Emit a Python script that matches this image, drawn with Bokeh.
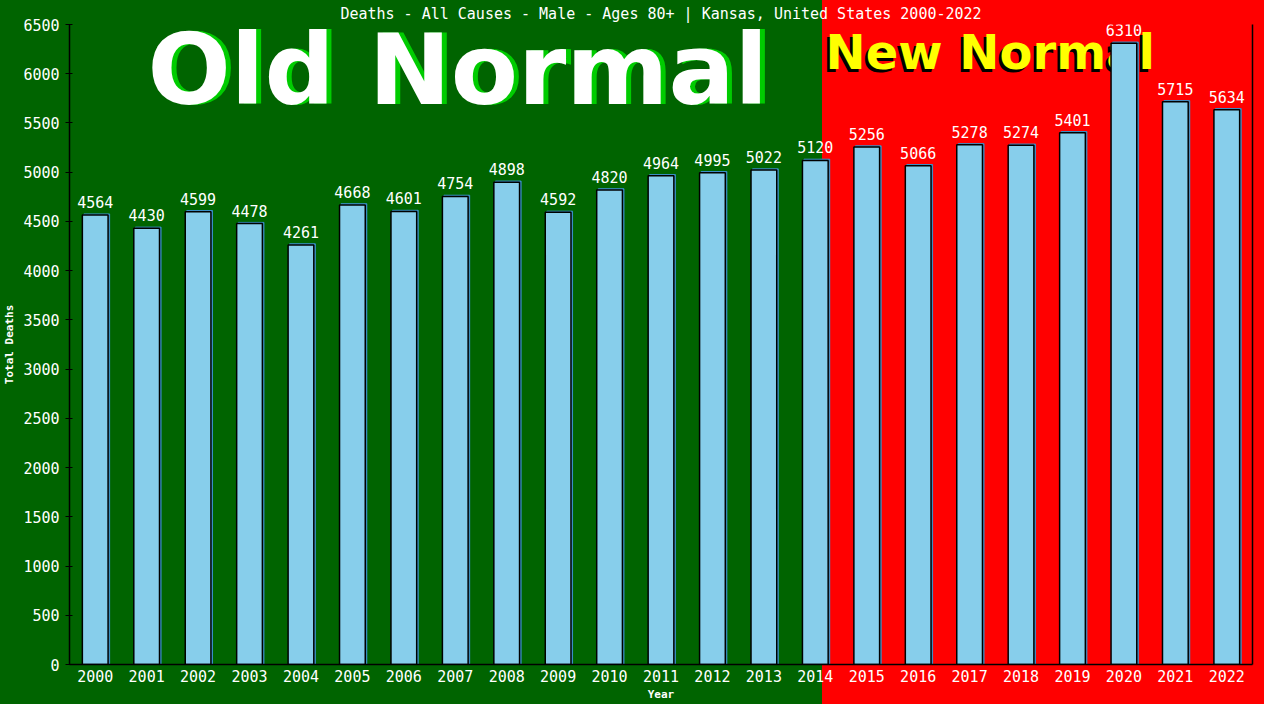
from bokeh.plotting import figure
from bokeh.models import ColumnDataSource, LinearAxis, FixedTicker
from bokeh.core.properties import value
from bokeh.transform import dodge
from bokeh.embed import file_html
from bokeh.resources import INLINE

# ---- data ----
years = list(range(2000, 2023))
deaths = [4564, 4430, 4599, 4478, 4261, 4668, 4601, 4754, 4898, 4592, 4820, 4964,
          4995, 5022, 5120, 5256, 5066, 5278, 5274, 5401, 6310, 5715, 5634]
labels = [str(v) for v in deaths]
y_ticks = list(range(0, 6501, 500))
title_text = "Deaths - All Causes - Male - Ages 80+ | Kansas, United States 2000-2022"
old_label = "Old Normal"
new_label = "New Normal"

GREEN = "#006400"
RED = "#FF0000"
MONO = "DejaVu Sans Mono"
SPLIT_PX = 822  # where the red "new normal" zone starts (canvas px)

src = ColumnDataSource(dict(year=years, deaths=deaths, label=labels,
                            shadow_top=[v + 12 for v in deaths]))

p = figure(width=1264, height=704, output_backend="svg", toolbar_location=None,
           x_range=(1999.5, 2022.5), y_range=(0, 6500),
           min_border_left=61, min_border_right=12, min_border_top=18, min_border_bottom=40)

# two-colour background (green left, red right) painted behind a transparent canvas
p.background_fill_color = None
p.border_fill_color = None
p.styles = {"background": f"linear-gradient(to right, {GREEN} 0px, {GREEN} {SPLIT_PX}px, "
                          f"{RED} {SPLIT_PX}px, {RED} 100%)"}
p.outline_line_color = None
p.grid.visible = False

# title
p.title.text = title_text
p.title.text_font = MONO
p.title.text_font_size = "15px"
p.title.text_font_style = "normal"
p.title.text_color = "white"
p.title.align = "center"
p.title.standoff = 4
p.title.offset = 0

# big texts
p.text(x=[2007.05], y=[6036], text=[old_label], x_offset=5, y_offset=0,
       text_color="#00CC00", text_font=value("DejaVu Sans"), text_font_style="bold",
       text_font_size="98px", text_align="center", text_baseline="middle")
p.text(x=[2007.05], y=[6036], text=[old_label],
       text_color="white", text_font=value("DejaVu Sans"), text_font_style="bold",
       text_font_size="98px", text_align="center", text_baseline="middle")
p.text(x=[2014.2], y=[6220], text=[new_label], x_offset=-3, y_offset=3,
       text_color="black", text_font=value("DejaVu Sans"), text_font_style="bold",
       text_font_size="48px", text_align="left", text_baseline="middle")
p.text(x=[2014.2], y=[6220], text=[new_label],
       text_color="#FFFF00", text_font=value("DejaVu Sans"), text_font_style="bold",
       text_font_size="48px", text_align="left", text_baseline="middle")

# bars
p.vbar(x=dodge("year", 0.03, range=p.x_range), top="shadow_top", width=0.5, bottom=0,
       source=src, fill_color="#3A8FC7", line_color="#3A8FC7", line_width=1)
p.vbar(x="year", top="deaths", width=0.5, bottom=0, source=src,
       fill_color="#87CEEB", line_color="black", line_width=1.5)

# value labels
p.text(x="year", y="deaths", text="label", source=src, y_offset=-7,
       text_align="center", text_baseline="bottom", text_color="white",
       text_font=value(MONO), text_font_size="15px")

# axes
xa = p.xaxis[0]
xa.ticker = FixedTicker(ticks=years)
xa.axis_label = "Year"
xa.axis_label_text_font = MONO
xa.axis_label_text_font_size = "11px"
xa.axis_label_text_font_style = "bold"
xa.axis_label_text_color = "white"
xa.axis_label_standoff = 3
xa.major_label_text_font = MONO
xa.major_label_text_font_size = "15px"
xa.major_label_text_color = "white"
xa.major_label_standoff = 5
xa.major_tick_line_color = None
xa.major_tick_out = 0
xa.major_tick_in = 0
xa.minor_tick_line_color = None
xa.axis_line_color = "black"
xa.axis_line_width = 1.5

ya = p.yaxis[0]
ya.ticker = FixedTicker(ticks=y_ticks)
ya.axis_label = "Total Deaths"
ya.axis_label_text_font = MONO
ya.axis_label_text_font_size = "11px"
ya.axis_label_text_font_style = "bold"
ya.axis_label_text_color = "white"
ya.axis_label_standoff = 4
ya.major_label_text_font = MONO
ya.major_label_text_font_size = "15px"
ya.major_label_text_color = "white"
ya.major_label_standoff = 6
ya.major_tick_line_color = "black"
ya.major_tick_out = 4
ya.major_tick_in = 3
ya.minor_tick_line_color = None
ya.axis_line_color = "black"
ya.axis_line_width = 1.5

ra = LinearAxis(ticker=FixedTicker(ticks=[]))
ra.major_label_text_font_size = "0px"
ra.major_tick_line_color = None
ra.minor_tick_line_color = None
ra.major_tick_out = 0
ra.major_tick_in = 0
ra.axis_line_color = "black"
ra.axis_line_width = 1.5
p.add_layout(ra, "right")

open("out.html", "w").write(file_html(p, INLINE))
